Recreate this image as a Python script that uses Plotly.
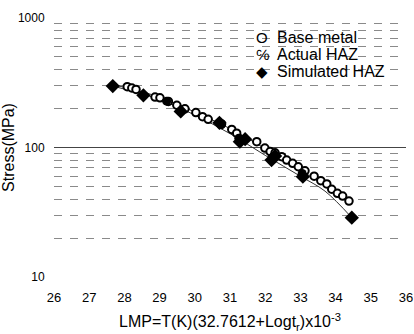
import plotly.graph_objects as go

# ---- data ----
base_lmp = [28.08, 28.21, 28.33, 28.87, 29.01, 29.25, 29.49, 29.72, 30.03, 30.22, 30.38,
            30.76, 31.05, 31.19, 31.76, 31.99, 32.14, 32.28, 32.47, 32.61, 32.78, 32.94,
            33.13, 33.39, 33.58, 33.75, 33.89, 34.05, 34.20, 34.38]
base_stress = [295, 288, 281, 245, 242, 227, 212, 199, 186, 173, 165,
               152, 138, 129, 111, 99, 93, 91, 85, 80, 75.5, 71,
               66, 60, 55.4, 52.3, 47.6, 44.3, 42.2, 38.6]

actual_lmp = [29.20, 30.75, 31.25, 32.20, 33.05]
actual_stress = [228, 150, 118, 84, 63]

sim_lmp = [27.67, 28.54, 29.60, 30.70, 31.28, 31.43, 32.18, 32.28, 33.07, 34.46]
sim_stress = [298, 253, 190, 155, 111, 116, 80, 86, 59.5, 28.7]

base_fit_lmp = [27.7, 29.0, 30.0, 31.0, 32.0, 33.0, 34.0, 34.38]
base_fit_stress = [305, 245, 188, 140, 98, 67, 45, 38.6]

sim_fit_lmp = [27.67, 29.0, 30.0, 31.0, 32.0, 33.0, 33.7, 34.46]
sim_fit_stress = [298, 235, 178, 128, 87, 60, 46, 28.7]

legend_names = ["Base metal", "Actual HAZ", "Simulated HAZ"]
legend_glyphs = ["O", "℅", "◆"]

x_ticks = [26, 27, 28, 29, 30, 31, 32, 33, 34, 35, 36]
y_ticks = [10, 100, 1000]

FONT = "Liberation Sans, Arial, sans-serif"

fig = go.Figure()

fig.add_trace(go.Scatter(x=base_fit_lmp, y=base_fit_stress, mode="lines",
                         line=dict(color="#333333", width=1, shape="spline"),
                         showlegend=False, hoverinfo="skip"))
fig.add_trace(go.Scatter(x=sim_fit_lmp, y=sim_fit_stress, mode="lines",
                         line=dict(color="#333333", width=1, shape="spline"),
                         showlegend=False, hoverinfo="skip"))
fig.add_trace(go.Scatter(x=base_lmp, y=base_stress, mode="markers", name=legend_names[0],
                         marker=dict(symbol="circle", size=7.5, color="white",
                                     line=dict(color="black", width=2)),
                         showlegend=False))
fig.add_trace(go.Scatter(x=actual_lmp, y=actual_stress, mode="markers", name=legend_names[1],
                         marker=dict(symbol="circle", size=9, color="black"),
                         showlegend=False))
fig.add_trace(go.Scatter(x=sim_lmp, y=sim_stress, mode="markers", name=legend_names[2],
                         marker=dict(symbol="diamond", size=11, color="black"),
                         showlegend=False))

# legend drawn as text (as in the scanned original)
for i, (g, n) in enumerate(zip(legend_glyphs, legend_names)):
    yy = 0.923 - i * 0.064
    fig.add_annotation(xref="paper", yref="paper", x=0.591, y=yy, text=g,
                       showarrow=False, xanchor="center", yanchor="middle",
                       font=dict(family=FONT, size=15, color="black"))
    fig.add_annotation(xref="paper", yref="paper", x=0.629, y=yy, text=n,
                       showarrow=False, xanchor="left", yanchor="middle",
                       font=dict(family=FONT, size=16, color="black"))

fig.update_layout(
    width=414, height=334,
    margin=dict(l=54, r=8, t=18, b=57, autoexpand=False),
    paper_bgcolor="white", plot_bgcolor="white",
    font=dict(family=FONT, color="black"),
    showlegend=False,
    xaxis=dict(range=[26, 36], tickvals=x_ticks, ticktext=[str(v) for v in x_ticks],
               showgrid=False, zeroline=False, showline=False, ticks="outside",
               ticklen=8, tickcolor="rgba(0,0,0,0)", automargin=False,
               tickfont=dict(size=13, color="black"),
               title=dict(text="LMP=T(K)(32.7612+Logt<sub>r</sub>)x10<sup>-3</sup>",
                          font=dict(size=16, color="black"), standoff=12)),
    yaxis=dict(type="log", range=[1, 3], tickvals=y_ticks,
               ticktext=[str(v) for v in y_ticks], automargin=False,
               showgrid=True, gridcolor="#444444", gridwidth=1,
               zeroline=False, showline=False, ticks="outside", ticklen=6,
               tickcolor="rgba(0,0,0,0)",
               tickfont=dict(size=12, color="black"),
               minor=dict(dtick="D1", showgrid=True, gridcolor="#8a8a8a",
                          griddash="8px,8px", gridwidth=1, ticks=""),
               title=dict(text="Stress(MPa)", font=dict(size=16, color="black"), standoff=2)),
)

fig.write_html(
    "out.html",
    config={"displayModeBar": False},
    post_script="document.body.style.margin='0';document.body.style.overflow='hidden';",
)
